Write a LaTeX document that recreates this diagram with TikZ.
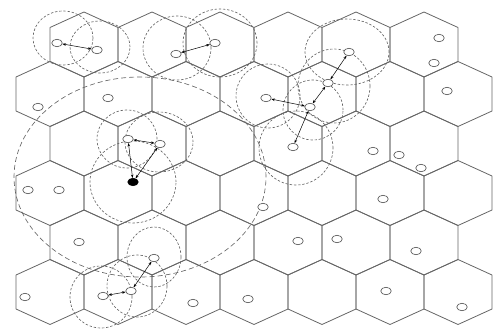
\documentclass[tikz,border=0pt]{standalone}
\usetikzlibrary{shapes.geometric,arrows.meta}
\begin{document}
\begin{tikzpicture}[x=1pt,y=-1pt,
  hexline/.style={draw=black!60,line width=0.8pt,line join=round},
  pt/.style={ellipse,draw=black!70,line width=0.6pt,fill=white,minimum width=10.5pt,minimum height=7.5pt,inner sep=0pt},
  bpt/.style={pt,fill=black,draw=black},
  dc/.style={draw=black!60,line width=0.65pt,dash pattern=on 2.4pt off 1.8pt},
  bigdc/.style={draw=black!60,line width=0.65pt,dash pattern=on 5pt off 3pt},
  arr/.style={{Stealth[length=3.5pt,width=2.6pt]}-{Stealth[length=3.5pt,width=2.6pt]},line width=0.5pt,black}]
\useasboundingbox (0,0) rectangle (494,329);
% hexagon grid
\foreach \cy in {44.5,143.5,242.5}{
  \foreach \cx in {84,152,220,288,356,424}{
    \draw[hexline] (\cx,\cy-32.5) -- (\cx+34,\cy-17) -- (\cx+34,\cy+17) -- (\cx,\cy+32.5) -- (\cx-34,\cy+17) -- (\cx-34,\cy-17) -- cycle;
  }
}
\foreach \cy in {94,193,292}{
  \foreach \cx in {50,118,186,254,322,390,458}{
    \draw[hexline] (\cx,\cy-32.5) -- (\cx+34,\cy-17) -- (\cx+34,\cy+17) -- (\cx,\cy+32.5) -- (\cx-34,\cy+17) -- (\cx-34,\cy-17) -- cycle;
  }
}
% dashed ranges
\draw[dc] (63,38) ellipse [x radius=30pt,y radius=27pt];
\draw[dc] (100,47) ellipse [x radius=30pt,y radius=26pt];
\draw[dc] (177,48) ellipse [x radius=34pt,y radius=32pt];
\draw[dc] (220,43) ellipse [x radius=37pt,y radius=34pt];
\draw[dc] (347,52) ellipse [x radius=42pt,y radius=33pt];
\draw[dc] (334,86) ellipse [x radius=36pt,y radius=37pt];
\draw[dc] (313,110) ellipse [x radius=30pt,y radius=30pt];
\draw[dc] (268,96) ellipse [x radius=32pt,y radius=32pt];
\draw[dc] (296,148) ellipse [x radius=37pt,y radius=37pt];
\draw[dc] (127,139) ellipse [x radius=30pt,y radius=29pt];
\draw[dc] (159,142) ellipse [x radius=34pt,y radius=30pt];
\draw[dc] (133,182) ellipse [x radius=43pt,y radius=41pt];
\draw[dc] (101,297) ellipse [x radius=31pt,y radius=31pt];
\draw[dc] (137,286) ellipse [x radius=30pt,y radius=31pt];
\draw[dc] (154,257) ellipse [x radius=27pt,y radius=30pt];
\draw[bigdc] (140,177) ellipse [x radius=126pt,y radius=100pt];
% nodes
\node[pt] (a1) at (57,43) {};
\node[pt] (a2) at (97,50) {};
\node[pt] (b1) at (176,54) {};
\node[pt] (b2) at (215,43) {};
\node[pt] (cA) at (349,52) {};
\node[pt] (cB) at (328,83) {};
\node[pt] (cC) at (310,107) {};
\node[pt] (cD) at (266,98) {};
\node[pt] (cE) at (293,147) {};
\node[pt] (d1) at (128,139) {};
\node[pt] (d2) at (160,144) {};
\node[bpt] (d0) at (133,182) {};
\node[pt] (e1) at (103,296) {};
\node[pt] (e2) at (131,291) {};
\node[pt] (e3) at (154,258) {};
\node[pt] (n1) at (439,38) {};
\node[pt] (n2) at (434,63) {};
\node[pt] (n3) at (447,91) {};
\node[pt] (n4) at (373,151) {};
\node[pt] (n5) at (399,155) {};
\node[pt] (n6) at (421,168) {};
\node[pt] (n7) at (383,199) {};
\node[pt] (n8) at (108,98) {};
\node[pt] (n9) at (38,107) {};
\node[pt] (n10) at (28,190) {};
\node[pt] (n11) at (59,190) {};
\node[pt] (n12) at (263,207) {};
\node[pt] (n13) at (79,242) {};
\node[pt] (n14) at (25,297) {};
\node[pt] (n15) at (298,241) {};
\node[pt] (n16) at (193,303) {};
\node[pt] (n17) at (248,299) {};
\node[pt] (n18) at (337,239) {};
\node[pt] (n19) at (416,251) {};
\node[pt] (n20) at (386,291) {};
\node[pt] (n21) at (462,307) {};
% links
\draw[arr] (a2) -- (a1);
\draw[arr] (b1) -- (b2);
\draw[arr] (cC) -- (cD);
\draw[arr] (cC) -- (cB);
\draw[arr] (cB) -- (cA);
\draw[arr] (cC) -- (cE);
\draw[arr] (d0) -- (d1);
\draw[arr] (d0) -- (d2);
\draw[arr] (d1) -- (d2);
\draw[arr] (e1) -- (e2);
\draw[arr] (e2) -- (e3);
\end{tikzpicture}
\end{document}
